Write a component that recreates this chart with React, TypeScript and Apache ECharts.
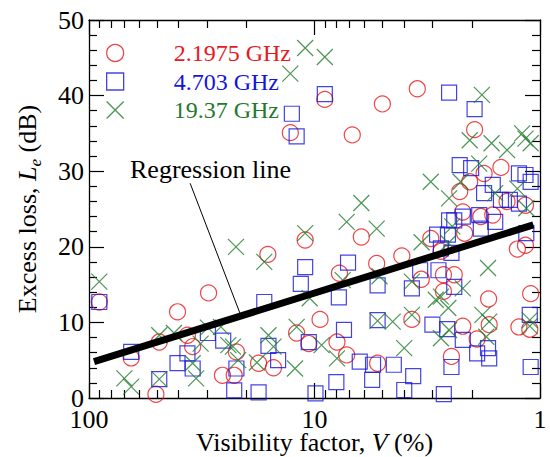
import React, { useEffect, useRef } from "react";
import * as echarts from "echarts";

const seriesNames = ["2.1975 GHz", "4.703 GHz", "19.37 GHz"];
const seriesColors = ["#e8191c", "#1414dc", "#1f7a2c"];

// [Visibility factor V (%), Excess loss Le (dB)]
const red2_1975 = [
  [90, 12.7], [65, 5.3], [50.5, 0.5], [48.8, 7.4], [40.5, 11.4], [36.6, 8.3], [34.7, 6.8],
  [29.5, 13.9], [25.6, 3.0], [22.7, 3.0], [22.2, 6.1], [17.7, 4.6], [16.1, 19.0], [15.2, 4.0],
  [12.0, 8.6], [12.8, 35.1], [11.0, 20.9], [10.6, 7.2], [9.45, 10.4], [9.0, 39.5], [7.95, 7.4],
  [7.75, 16.5], [7.2, 5.7], [6.8, 34.8], [6.2, 21.3], [5.3, 17.8], [5.25, 4.6], [5.0, 38.9],
  [4.1, 18.8], [3.7, 10.4], [3.5, 40.9], [3.36, 15.7], [3.05, 21.1], [2.75, 19.4], [2.68, 16.3],
  [2.68, 14.1], [2.47, 5.5], [2.4, 16.3], [2.27, 27.3], [2.2, 24.6], [2.2, 9.5], [2.16, 21.8],
  [2.05, 28.6], [1.95, 35.5], [1.9, 7.8], [1.83, 24.0], [1.77, 29.7], [1.69, 13.1], [1.68, 9.7],
  [1.62, 24.2], [1.49, 30.5], [1.4, 26.0], [1.26, 19.7], [1.24, 9.4], [1.16, 25.5], [1.16, 20.2],
  [1.1, 13.8], [1.11, 9.1],
];

const blue4_703 = [
  [90, 12.7], [65, 6.1], [48.8, 2.5], [40.5, 4.6], [36.6, 5.9], [34.7, 3.9], [29.7, 8.6],
  [25.4, 7.6], [22.2, 3.9], [22.7, 1.0], [17.7, 0.75], [16.7, 12.7], [16, 6.9], [14.5, 5.0],
  [12.6, 37.6], [12.0, 34.6], [11.5, 15.1], [11.0, 17.3], [10.6, 7.4], [9.9, 0.6], [9.0, 40.2],
  [8.0, 2.1], [7.8, 13.3], [7.4, 9.0], [7.1, 17.9], [6.3, 4.8], [5.55, 2.4], [5.5, 4.4],
  [5.25, 10.3], [5.25, 14.9], [4.45, 4.4], [4.0, 1.06], [3.65, 2.9], [3.7, 14.5], [3.4, 16.9],
  [3.0, 9.7], [2.86, 21.6], [2.82, 16.9], [2.75, 19.8], [2.67, 0.5], [2.58, 9.1], [2.56, 21.6],
  [2.53, 23.5], [2.53, 40.4], [2.47, 4.1], [2.47, 19.2], [2.4, 23.5], [2.4, 14.7], [2.27, 30.8],
  [2.2, 7.7], [2.2, 24.0], [2.02, 30.4], [1.95, 38.2], [1.9, 5.9], [1.86, 24.2], [1.83, 22.4],
  [1.77, 27.1], [1.7, 6.6], [1.68, 5.25], [1.62, 28.2], [1.58, 23.3], [1.49, 26.2], [1.36, 26.2],
  [1.24, 29.7], [1.24, 25.7], [1.16, 29.5], [1.1, 28.6], [1.15, 21.8], [1.11, 11.0], [1.1, 4.1],
];

const green19_37 = [
  [90, 15.4], [69.7, 2.6], [65, 1.5], [48.8, 8.3], [48.8, 2.5], [42, 8.6], [34.7, 4.6],
  [33.5, 2.6], [32, 7.2], [29.7, 9.3], [26, 9.4], [24.1, 7.0], [23, 6.8], [22.3, 20.0],
  [21.8, 5.0], [18.0, 4.7], [16.7, 18.0], [16.0, 8.3], [15.2, 6.8], [12.2, 3.9], [12.0, 9.4],
  [11.0, 21.8], [11.0, 46.3], [12.8, 42.9], [10.5, 13.2], [9.3, 7.0], [9.0, 45.1], [7.95, 5.25],
  [7.5, 15.6], [7.2, 23.3], [6.2, 25.8], [5.3, 22.4], [5.25, 10.2], [5.15, 16.1], [4.5, 10.1],
  [4.0, 6.6], [3.7, 15.4], [3.7, 11.0], [3.35, 20.6], [3.05, 28.6], [2.9, 13.0], [2.75, 13.4],
  [2.75, 7.9], [2.55, 11.9], [2.53, 26.4], [2.53, 9.0], [2.45, 22.7], [2.55, 20.5], [2.25, 28.6],
  [2.2, 14.5], [2.05, 34.1], [1.86, 31.0], [1.81, 40.1], [1.8, 11.0], [1.73, 8.1], [1.7, 17.2],
  [1.68, 10.1], [1.64, 33.7], [1.58, 27.1], [1.4, 32.8], [1.26, 27.7], [1.2, 35.0], [1.16, 34.3],
  [1.1, 33.7], [1.15, 25.1], [1.11, 10.3], [1.11, 9.5],
];

const regressionLine = [[95, 4.8], [1.07, 22.9]];
const pointerLine = [[35.6, 28.4], [21.4, 11.2]];
const annotationText = "Regression line";

const xMajorTicks = [1, 10, 100];
const xMinorTicks = [2, 3, 4, 5, 6, 7, 8, 9, 20, 30, 40, 50, 60, 70, 80, 90];

const FONT = '"Liberation Serif", "Times New Roman", serif';

export default function App() {
  const ref = useRef<HTMLDivElement>(null);

  useEffect(() => {
    document.body.style.margin = "0";
    if (!ref.current) return;
    const chart = echarts.init(ref.current, null, { renderer: "svg" });

    const axisLine = { show: true, lineStyle: { color: "#000", width: 1.3 } };
    const tickStyle = { color: "#000", width: 1.2 };
    const xBase = {
      type: "log" as const,
      logBase: 10,
      min: 1,
      max: 100,
      inverse: true,
      splitLine: { show: false },
      minorTick: { show: false },
    };
    const yBase = {
      type: "value" as const,
      min: 0,
      max: 50,
      interval: 10,
      splitLine: { show: false },
      axisLine,
      axisTick: { inside: true, length: 15, lineStyle: tickStyle },
      minorTick: { show: true, splitNumber: 5, length: 8, lineStyle: tickStyle },
    };
    const legendText = { fontFamily: FONT, fontSize: 24, padding: [0, 0, 0, 45] };

    const option: any = {
      animation: false,
      grid: { left: 89, right: 10, top: 20, bottom: 59, outerBoundsMode: "none", containLabel: false },
      legend: {
        orient: "vertical",
        left: 101,
        top: 36,
        itemWidth: 17,
        itemHeight: 17,
        itemGap: 4.5,
        selectedMode: false,
        itemStyle: { borderWidth: 1.3 },
        textStyle: legendText,
        data: seriesNames.map((n, i) => ({ name: n, textStyle: { ...legendText, color: seriesColors[i] } })),
      },
      xAxis: [
        {
          ...xBase,
          position: "bottom",
          axisLine,
          axisTick: { inside: true, length: 15, customValues: xMajorTicks, lineStyle: tickStyle },
          axisLabel: { customValues: xMajorTicks, fontFamily: FONT, fontSize: 26, color: "#000", margin: 8 },
          name: "{a|Visibility factor, }{b|V}{a| (%)}",
          nameLocation: "middle",
          nameGap: 31,
          nameMoveOverlap: false,
          nameTextStyle: {
            rich: {
              a: { fontFamily: FONT, fontSize: 26, color: "#000" },
              b: { fontFamily: FONT, fontSize: 26, color: "#000", fontStyle: "italic" },
            },
          },
        },
        {
          ...xBase,
          position: "bottom",
          axisLine: { show: false },
          axisTick: { inside: true, length: 8, customValues: xMinorTicks, lineStyle: tickStyle },
          axisLabel: { show: false },
        },
        {
          ...xBase,
          position: "top",
          axisLine,
          axisTick: { inside: true, length: 15, customValues: xMajorTicks, lineStyle: tickStyle },
          axisLabel: { show: false },
        },
        {
          ...xBase,
          position: "top",
          axisLine: { show: false },
          axisTick: { inside: true, length: 8, customValues: xMinorTicks, lineStyle: tickStyle },
          axisLabel: { show: false },
        },
      ],
      yAxis: [
        {
          ...yBase,
          position: "left",
          axisLabel: { fontFamily: FONT, fontSize: 26, color: "#000", margin: 5 },
          name: "{a|Excess loss, }{b|L}{c|e}{a| (dB)}",
          nameLocation: "middle",
          nameGap: 45,
          nameMoveOverlap: false,
          nameTextStyle: {
            rich: {
              a: { fontFamily: FONT, fontSize: 26, color: "#000", lineHeight: 34, verticalAlign: "middle" },
              b: { fontFamily: FONT, fontSize: 26, color: "#000", fontStyle: "italic", lineHeight: 34, verticalAlign: "middle" },
              c: { fontFamily: FONT, fontSize: 17, color: "#000", fontStyle: "italic", lineHeight: 17, verticalAlign: "bottom" },
            },
          },
        },
        { ...yBase, position: "right", axisLabel: { show: false } },
      ],
      graphic: [
        {
          type: "text",
          left: 130,
          top: 156,
          style: { text: annotationText, fontFamily: FONT, fontSize: 26, fill: "#000" },
        },
      ],
      series: [
        {
          name: seriesNames[0],
          type: "scatter",
          data: red2_1975,
          symbol: "circle",
          symbolSize: 16,
          itemStyle: { color: "rgba(0,0,0,0)", borderColor: seriesColors[0], borderWidth: 1.2 },
        },
        {
          name: seriesNames[1],
          type: "scatter",
          data: blue4_703,
          symbol: "rect",
          symbolSize: 15,
          itemStyle: { color: "rgba(0,0,0,0)", borderColor: seriesColors[1], borderWidth: 1.2 },
        },
        {
          name: seriesNames[2],
          type: "scatter",
          data: green19_37,
          symbol: "path://M0,0L10,10M10,0L0,10",
          symbolSize: 16,
          itemStyle: { color: "rgba(0,0,0,0)", borderColor: seriesColors[2], borderWidth: 1.2 },
        },
        {
          type: "line",
          data: regressionLine,
          symbol: "none",
          z: 5,
          lineStyle: { color: "#000", width: 7 },
        },
        {
          type: "line",
          data: pointerLine,
          symbol: "none",
          z: 5,
          lineStyle: { color: "#000", width: 1 },
        },
      ],
    };

    chart.setOption(option);
    return () => chart.dispose();
  }, []);

  return <div ref={ref} style={{ width: 550, height: 457 }} />;
}
